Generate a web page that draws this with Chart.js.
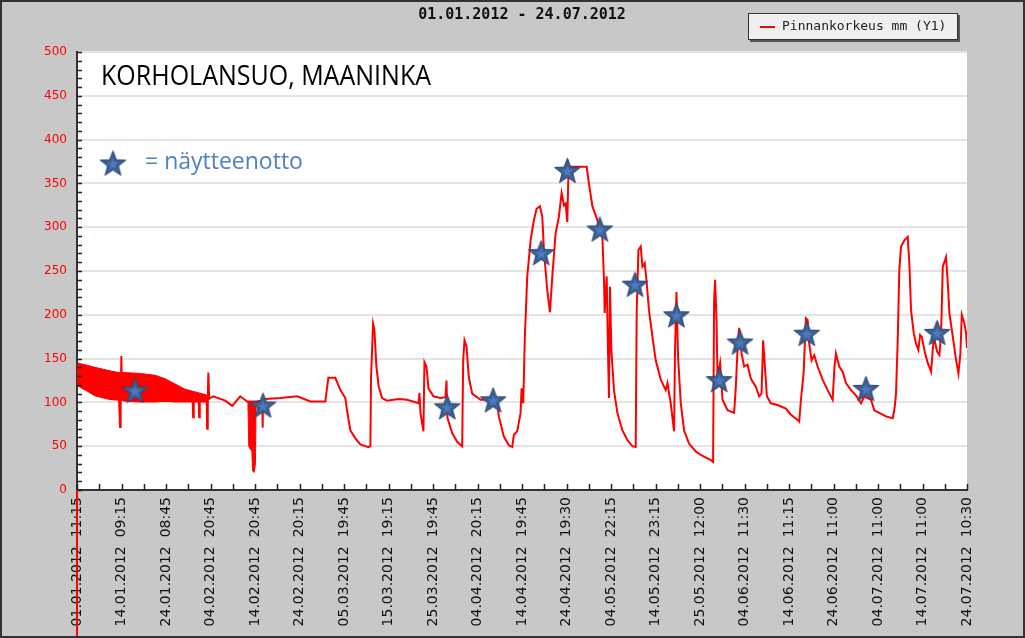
<!DOCTYPE html>
<html>
<head>
<meta charset="utf-8">
<script src="https://cdn.jsdelivr.net/npm/chart.js@4.4.1/dist/chart.umd.min.js"></script>
<style>
  html, body { margin: 0; padding: 0; background: #c8c8c8; }
  #wrap { width: 1025px; height: 638px; }
</style>
</head>
<body>
<div id="wrap"><canvas id="myChartLevel" width="1025" height="638"></canvas></div>
<script>
// x unit: 10 = one labelled interval on the axis
const tickLabels = ['01.01.2012  11:15', '14.01.2012  09:15', '24.01.2012  08:45', '04.02.2012  20:45',
    '14.02.2012  20:45', '24.02.2012  20:15', '05.03.2012  19:45', '15.03.2012  19:15', '25.03.2012  19:45',
    '04.04.2012  20:15', '14.04.2012  19:45', '24.04.2012  19:30', '04.05.2012  22:15', '14.05.2012  23:15',
    '25.05.2012  12:00', '04.06.2012  11:30', '14.06.2012  11:15', '24.06.2012  11:00', '04.07.2012  11:00',
    '14.07.2012  11:00', '24.07.2012  10:30'];

const levelX = [0, 1.8, 4.05, 7.43, 9.45, 9.68, 9.81, 9.97, 10.13, 10.8, 14.18, 17.55, 19.8, 22.05, 24.3,
    25.99, 26.1, 26.24, 27.34, 27.45, 27.59, 29.14, 29.25, 29.39, 29.52, 29.7, 30.6, 33.3, 34.88, 36.68, 38.25,
    40.28, 41.63, 41.72, 41.8, 42.3, 45.68, 49.5, 52.43, 55.8, 56.48, 58.05, 59.18, 60.3, 60.68, 61.43, 62.55,
    63.68, 65.48, 65.93, 66.08, 66.53, 66.83, 67.28, 67.79, 68.56, 69.68, 72.23, 74.18, 76.73, 76.95, 77.18,
    77.85, 78.08, 78.53, 78.98, 80.1, 81.68, 82.8, 83.03, 83.25, 84.31, 85.43, 86.56, 86.78, 87.08, 87.53,
    88.04, 88.81, 90.68, 92.93, 94.43, 94.79, 95.92, 97.04, 97.81, 98.17, 98.93, 99.68, 99.9, 100.28, 100.64,
    101.18, 101.93, 102.67, 103.28, 104.02, 104.56, 104.92, 105.68, 106.27, 106.81, 107.55, 108.29, 108.9,
    109.42, 109.8, 110.18, 110.41, 110.93, 114.53, 115.04, 115.81, 116.93, 118.06, 118.42, 118.58, 119.03,
    119.32, 119.54, 119.77, 120.08, 120.67, 121.43, 122.56, 123.68, 124.81, 125.55, 125.78, 126.16, 126.68,
    127.06, 127.58, 127.96, 128.54, 129.31, 130.05, 131.18, 132.3, 132.68, 133.43, 134.17, 134.39, 134.71,
    135.07, 135.68, 136.42, 137.54, 139.05, 140.18, 140.92, 142.43, 142.94, 143.17, 143.39, 143.71, 143.93,
    144.52, 145.06, 146.18, 147.67, 148.05, 148.43, 148.79, 149.33, 149.92, 150.68, 151.43, 152.55, 153.29,
    153.83, 154.19, 154.58, 155.03, 155.93, 157.43, 159.3, 160.43, 161.93, 162.29, 162.68, 163.28, 163.8,
    164.18, 164.54, 165.08, 165.67, 166.43, 167.56, 168.68, 169.81, 170.21, 170.55, 171.29, 172.06, 172.8,
    173.93, 175.05, 176.18, 176.92, 178.43, 179.17, 180.29, 181.8, 183.31, 183.67, 184.05, 184.43, 184.79,
    185.18, 185.92, 186.68, 187.04, 187.43, 188.03, 188.55, 189.07, 189.45, 189.83, 190.58, 191.18, 191.93,
    192.53, 193.28, 193.79, 194.18, 194.56, 195.3, 195.68, 196.04, 196.81, 197.55, 198.07, 198.52, 198.83,
    199.42, 199.8, 200];
const levelMm = [120, 115, 108, 104, 103, 72, 100, 153, 103, 102, 101, 101, 102, 101, 101,
    101, 83, 101, 101, 83, 101, 101, 70, 108, 134, 104, 107, 102, 96, 107, 101,
    101, 102, 71, 102, 104, 105, 107, 101, 101, 128, 128, 114, 105, 91, 68, 59,
    52, 49, 50, 129, 190, 183, 141, 118, 105, 102, 104, 103, 99, 111, 88,
    67, 146, 141, 116, 107, 105, 106, 125, 82, 65, 55, 50, 148, 171, 164,
    129, 110, 103, 103, 99, 84, 61, 51, 49, 63, 67, 88, 116, 99, 175,
    244, 285, 308, 321, 324, 312, 274, 228, 203, 244, 293, 312, 339,
    325, 327, 306, 358, 369, 369, 350, 324, 308, 289, 240, 202, 244,
    160, 105, 232, 160, 114, 88, 68, 57, 50, 49, 205, 274, 278,
    255, 259, 240, 205, 175, 148, 126, 114, 122, 99, 67, 160, 226,
    152, 99, 68, 53, 44, 40, 38, 34, 32, 217, 240, 194, 129,
    145, 103, 91, 88, 118, 160, 185, 156, 141, 143, 127, 118, 107,
    110, 171, 141, 107, 99, 97, 93, 86, 80, 78, 103, 133, 196,
    194, 167, 148, 154, 141, 126, 114, 103, 140, 156, 141, 135, 122,
    114, 108, 99, 107, 103, 91, 88, 84, 82, 91, 110, 171, 251,
    278, 285, 289, 259, 205, 179, 167, 160, 177, 175, 156, 145, 135,
    175, 158, 154, 179, 255, 266, 236, 202, 175, 148, 133, 156, 200,
    190, 179, 162];

// dense oscillation at the start and the dip in February, drawn as a filled band
const bandX = [0, 1.8, 4.05, 7.43, 9.45, 10.8, 14.18, 17.55, 19.8, 22.05, 24.3, 26.55, 28.8, 29.25,
    30, 38.4, 38.6, 39.0, 39.3, 39.45, 39.8, 40.1, 40.25];
const bandHigh = [145, 143, 140, 136, 134, 134, 133, 131, 127, 121, 115, 112, 109, 108,
    null, 101, 101, 101, 101, 101, 101, 101, 101];
const bandLow = [120, 115, 108, 104, 103, 102, 101, 101, 102, 101, 101, 101, 101, 101,
    null, 101, 50, 46, 45, 22, 20, 30, 101];

// sampling times (stars)
const sampleX = [13.05, 41.8, 83.2, 93.5, 104.3, 110.2, 117.5, 125.4, 134.7, 144.3, 149.0, 164.0, 177.3, 193.3];
const sampleMm = [114, 97, 95, 103, 271, 365, 298, 235, 200, 126, 169, 179, 116, 180];

const toPoints = (xs, ys) => xs.map((x, i) => ({ x: x, y: ys[i] }));

function makeStar(r) {
    const c = document.createElement('canvas');
    c.width = c.height = Math.ceil(2 * r + 4);
    const g = c.getContext('2d');
    const cx = c.width / 2, cy = c.height / 2 + r * 0.1;
    function path(R, ri) {
        g.beginPath();
        for (let i = 0; i < 10; i++) {
            const rad = i % 2 ? ri : R;
            const a = -Math.PI / 2 + i * Math.PI / 5;
            g.lineTo(cx + rad * Math.cos(a), cy + rad * Math.sin(a));
        }
        g.closePath();
    }
    path(r, r * 0.42);
    g.fillStyle = '#3c5e93';
    g.fill();
    g.strokeStyle = '#2c4670';
    g.lineWidth = 1;
    g.stroke();
    path(r * 0.45, r * 0.19);
    g.fillStyle = '#4d7abb';
    g.fill();
    return c;
}
const starImg = makeStar(13.5);

const decor = {
    id: 'decor',
    beforeDraw(chart) {
        const { ctx, chartArea: a } = chart;
        ctx.save();
        ctx.fillStyle = '#c8c8c8';
        ctx.fillRect(0, 0, chart.width, chart.height);
        ctx.fillStyle = '#ffffff';
        ctx.fillRect(a.left, a.top, a.right - a.left, a.bottom - a.top);
        ctx.restore();
    },
    afterDraw(chart) {
        const { ctx, chartArea: a } = chart;
        const x = chart.scales.x, y = chart.scales.y;
        ctx.save();
        // inward tick marks
        ctx.strokeStyle = '#222';
        ctx.lineWidth = 1.5;
        ctx.beginPath();
        y.ticks.forEach(t => {
            const py = Math.round(y.getPixelForValue(t.value)) + 0.5;
            ctx.moveTo(a.left, py);
            ctx.lineTo(a.left + 5, py);
        });
        x.ticks.forEach(t => {
            const px = Math.round(x.getPixelForValue(t.value)) + 0.5;
            ctx.moveTo(px, a.bottom);
            ctx.lineTo(px, a.bottom - 6);
        });
        ctx.stroke();
        // red marker below the start
        const x0 = x.getPixelForValue(0);
        ctx.strokeStyle = '#ff0000';
        ctx.lineWidth = 2;
        ctx.beginPath();
        ctx.moveTo(x0, a.bottom);
        ctx.lineTo(x0, chart.height);
        ctx.stroke();

        // legend box
        ctx.fillStyle = '#555';
        ctx.fillRect(750, 15, 210, 27);
        ctx.fillStyle = '#efefef';
        ctx.fillRect(748, 13, 210, 27);
        ctx.strokeStyle = '#333';
        ctx.lineWidth = 1;
        ctx.strokeRect(748.5, 13.5, 209, 26);
        ctx.strokeStyle = '#ff0000';
        ctx.lineWidth = 2;
        ctx.beginPath();
        ctx.moveTo(760, 27);
        ctx.lineTo(775, 27);
        ctx.stroke();
        ctx.fillStyle = '#222';
        ctx.font = '13px "DejaVu Sans Mono"';
        ctx.textBaseline = 'middle';
        ctx.fillText(chart.data.datasets[1].label, 782, 27, 166);

        // annotations
        ctx.textBaseline = 'alphabetic';
        ctx.fillStyle = '#000';
        ctx.font = '28px "Open Sans"';
        ctx.fillText('KORHOLANSUO, MAANINKA', 101, 85, 330);
        ctx.drawImage(starImg, 113 - starImg.width / 2, 163 - starImg.height / 2);
        ctx.fillStyle = '#4f81bd';
        ctx.font = '23px "Open Sans"';
        ctx.fillText('= näytteenotto', 145, 169, 158);

        // outer frame
        ctx.strokeStyle = '#333';
        ctx.lineWidth = 2;
        ctx.strokeRect(1, 1, chart.width - 2, chart.height - 2);
        ctx.restore();
    }
};

const ctxLevel = document.getElementById('myChartLevel');
const myChartLevel = new Chart(ctxLevel, {
    type: 'line',
    data: {
        datasets: [{
            label: 'näytteenotto',
            type: 'scatter',
            data: toPoints(sampleX, sampleMm),
            pointStyle: starImg,
            pointRadius: 13,
            showLine: false
        }, {
            label: 'Pinnankorkeus mm (Y1)',
            data: toPoints(levelX, levelMm),
            borderColor: '#ff0000',
            borderWidth: 2,
            pointRadius: 0,
            tension: 0,
            fill: false
        }, {
            label: 'band low',
            data: toPoints(bandX, bandLow),
            borderColor: '#ff0000',
            borderWidth: 1,
            pointRadius: 0,
            fill: false
        }, {
            label: 'band high',
            data: toPoints(bandX, bandHigh),
            borderColor: '#ff0000',
            borderWidth: 1,
            backgroundColor: '#ff0000',
            pointRadius: 0,
            fill: '-1'
        }]
    },
    options: {
        responsive: false,
        animation: false,
        events: [],
        layout: {
            padding: { left: 0, right: 58, top: 0, bottom: 0 }
        },
        scales: {
            x: {
                type: 'linear',
                min: 0,
                max: 200,
                afterFit: (s) => { s.height = 148; },
                grid: { color: 'transparent', drawTicks: false },
                border: { display: true, color: '#333', width: 2 },
                ticks: {
                    stepSize: 5,
                    autoSkip: false,
                    minRotation: 90,
                    maxRotation: 90,
                    padding: 7,
                    color: '#111',
                    font: { family: 'DejaVu Sans', size: 14 },
                    callback: (v) => (v % 10 === 0 ? tickLabels[v / 10] : '')
                }
            },
            y: {
                min: 0,
                max: 500,
                afterFit: (s) => { s.width = 77; },
                grid: {
                    color: (c) => (c.tick && c.tick.value % 50 === 0 && c.tick.value > 0 ? '#e4e4e4' : 'transparent'),
                    lineWidth: 2,
                    drawTicks: false
                },
                border: { display: true, color: '#333', width: 2 },
                ticks: {
                    stepSize: 10,
                    autoSkip: false,
                    padding: 10,
                    color: '#ff0000',
                    font: { family: 'DejaVu Sans', size: 12 },
                    callback: (v) => (v % 50 === 0 ? v : '')
                }
            }
        },
        plugins: {
            title: {
                display: true,
                fullSize: false,
                text: '01.01.2012 - 24.07.2012',
                color: '#111',
                font: { family: 'DejaVu Sans Mono', size: 15, weight: 'bold', lineHeight: 1 },
                padding: { top: 8, bottom: 29 }
            },
            legend: { display: false },
            tooltip: { enabled: false }
        }
    },
    plugins: [decor]
});
</script>
</body>
</html>
